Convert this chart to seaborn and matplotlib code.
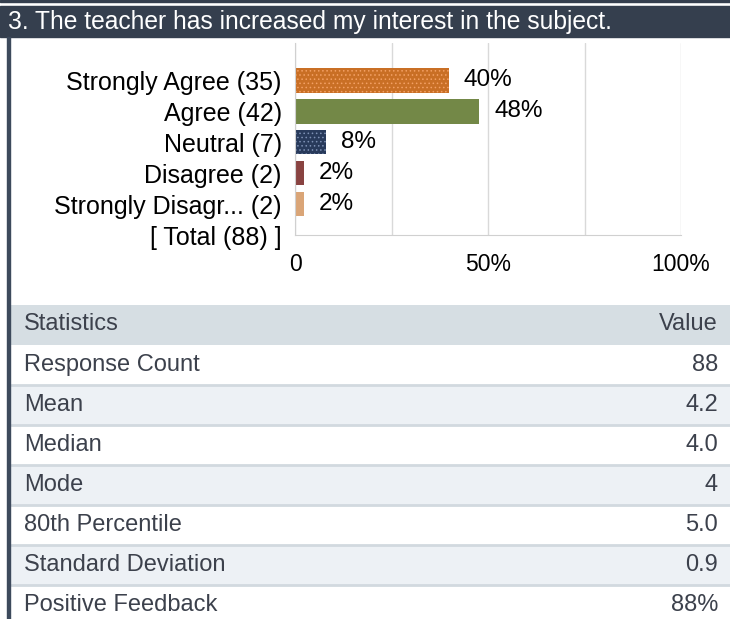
import matplotlib
matplotlib.use("Agg")
import matplotlib.pyplot as plt
import seaborn as sns
import pandas as pd

# survey data
title = "3. The teacher has increased my interest in the subject."
answers = ["Strongly Agree", "Agree", "Neutral", "Disagree", "Strongly Disagr..."]
counts = [35, 42, 7, 2, 2]
total = 88
bar_colors = ["#e46c0a", "#77933c", "#1f3864", "#953735", "#eaa467"]
dot_colors = ["#f3a064", None, "#7d90b4", None, None]

stat_names = ["Response Count", "Mean", "Median", "Mode", "80th Percentile",
              "Standard Deviation", "Positive Feedback"]
stat_values = ["88", "4.2", "4.0", "4", "5.0", "0.9", "88%"]

df = pd.DataFrame({"answer": answers, "pct": [c / total * 100 for c in counts]})

sns.set_style("white")
plt.rcParams["font.family"] = ["Liberation Sans", "DejaVu Sans"]
plt.rcParams["hatch.linewidth"] = 0.6

W, H = 730, 619
fig = plt.figure(figsize=(W / 100, H / 100), dpi=100)

# header band and left border
dark = "#353f4e"
fig.patches.append(plt.Rectangle((0, 1 - 2 / H), 1, 2 / H, transform=fig.transFigure, color=dark))
fig.patches.append(plt.Rectangle((0, 1 - 37 / H), 1, 31 / H, transform=fig.transFigure, color=dark))
fig.patches.append(plt.Rectangle((7 / W, 0), 2.5 / W, 1 - 37 / H, transform=fig.transFigure, color="#3d4a5c"))
fig.text(8 / W, 1 - 22 / H, title, color="white", fontsize=17.7, va="center", ha="left")

# bar chart
ax = fig.add_axes([295 / W, 1 - 235 / H, 386 / W, 192 / H])
sns.barplot(data=df, x="pct", y="answer", hue="answer", palette=bar_colors,
            legend=False, width=0.8, orient="h", ax=ax, linewidth=0)
for patch, dc in zip([c[0] for c in ax.containers], dot_colors):
    if dc:
        patch.set_hatch("....")
        patch.set_edgecolor(dc)
        patch.set_linewidth(0)
for c, n in zip(ax.containers, counts):
    ax.bar_label(c, labels=[f"{n / total * 100:.0f}%"], padding=11, fontsize=17.5, color="black")

ax.set_xlim(0, 100)
ax.set_ylim(5, -1.2)
ax.set_xticks([0, 50, 100])
ax.set_xticklabels(["0", "50%", "100%"])
ax.set_xticks([25, 75], minor=True)
ax.set_yticks(range(6))
ax.set_yticklabels([f"{a} ({n})" for a, n in zip(answers, counts)] + [f"[ Total ({total}) ]"])
ax.grid(axis="x", which="both", color="#d9d9d9", linewidth=1)
ax.set_xlabel("")
ax.set_ylabel("")
ax.tick_params(axis="x", length=0, pad=13, labelsize=16.5, labelcolor="black")
ax.tick_params(axis="y", length=4.5, color="#c8c8c8", width=1, pad=5, labelsize=18, labelcolor="black")
for s in ["top", "right"]:
    ax.spines[s].set_visible(False)
for s in ["left", "bottom"]:
    ax.spines[s].set_color("#d0d0d0")

# statistics table
tax = fig.add_axes([11 / W, 0, 1 - 11 / W, (619 - 305) / H])
tax.set_xlim(0, 1)
tax.set_ylim(314 / 40, 0)
tax.axis("off")
txt = "#3c414c"
tax.axhspan(0, 1, color="#d6dee3", lw=0)
tax.text(13 / 719, 0.48, "Statistics", color=txt, fontsize=17, va="center")
tax.text(707 / 719, 0.48, "Value", color=txt, fontsize=17, va="center", ha="right")
for i, (name, val) in enumerate(zip(stat_names, stat_values)):
    y0 = i + 1
    if i % 2 == 1:
        tax.axhspan(y0, y0 + 1, color="#edf1f5", lw=0)
    if i > 0:
        tax.axhline(y0, color="#d2d9df", lw=2)
    tax.text(13 / 719, y0 + 0.5, name, color=txt, fontsize=17, va="center")
    tax.text(707 / 719, y0 + 0.5, val, color=txt, fontsize=17, va="center", ha="right")

fig.savefig("out.png", dpi=100)
